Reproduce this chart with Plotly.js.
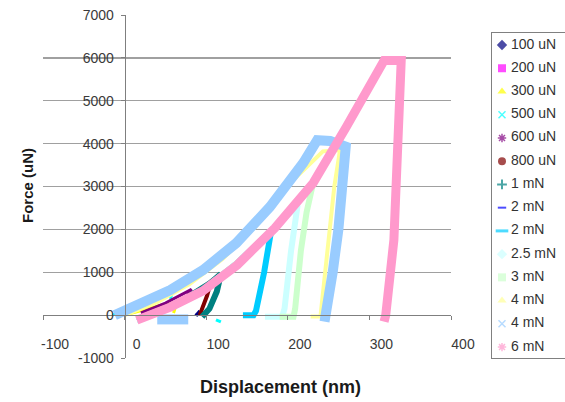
<!DOCTYPE html>
<html><head><meta charset="utf-8">
<script src="https://cdn.plot.ly/plotly-3.0.1.min.js"></script>
<style>html,body{margin:0;padding:0;background:#fff;} #chart{width:565px;height:402px;}</style>
</head><body><div id="chart"></div>
<script>
// ---- labels / ticks ----
const seriesNames = ["100 uN","200 uN","300 uN","500 uN","600 uN","800 uN","1 mN","2 mN","2 mN","2.5 mN","3 mN","4 mN","4 mN","6 mN"];
const xTicks = [-100, 0, 100, 200, 300, 400];
const yTicks = [-1000, 0, 1000, 2000, 3000, 4000, 5000, 6000, 7000];
const yGrid = [1000, 2000, 3000, 4000, 5000, 6000];

// ---- series values (displacement nm, force uN) ----
const x100uN = [88, 91, 92, 89, 87];
const y100uN = [-20, 60, 100, 30, -10];
const x200uN = [20, 40, 56, 60, 57];
const y200uN = [-60, 50, 190, 200, 120];
const x300uN = [0, 30, 50, 64, 62, 60];
const y300uN = [0, 150, 260, 300, 150, 50];
const x500uN = [-15, 10, 35, 55, 58, 56, null, 112, 118];
const y500uN = [0, 150, 380, 500, 500, 380, null, -110, -160];
const x600uN = [20, 50, 78, 82, 76, 72];
const y600uN = [50, 280, 560, 600, 420, 330];
const x800uN = [30, 70, 100, 106, 101, 95, 92];
const y800uN = [0, 350, 680, 790, 450, 100, 0];
const x1mN = [30, 70, 105, 118, 113, 104, 95];
const y1mN = [0, 330, 750, 960, 550, 150, -40];
const x2mNa = [15, 56, 96, 138, 176, 178, 171, 162, 158, 150];
const y2mNa = [-100, 190, 580, 1210, 1900, 1900, 1050, 120, -10, -20];
const x2mNb = [15, 56, 96, 138, 176, 179, 171, 161, 158, 145];
const y2mNb = [-110, 185, 585, 1215, 1900, 1900, 1000, 100, 0, 0];
const x2p5mN = [15, 56, 96, 138, 184, 210, 212, 204, 196, 193, 172];
const y2p5mN = [-110, 185, 585, 1215, 2030, 2560, 2560, 1500, 150, -40, -40];
const x3mN = [15, 56, 96, 138, 184, 229, 231, 223, 216, 209, 207, 190];
const y3mN = [-110, 185, 585, 1215, 2030, 3080, 3080, 2400, 1500, 150, -40, -40];
const x4mNa = [0, 40, 80, 120, 160, 200, 243, 264, 257, 251, 245, 240, 228];
const y4mNa = [0, 300, 730, 1310, 2060, 3030, 3820, 3850, 3000, 2000, 1000, -30, -30];
const x4mNb = [40, 78, null, -12, 15, 56, 96, 137, 178, 219, 236, 252, 271, 267, 262, 255, 248, 245];
const y4mNb = [-100, -100, null, 0, 234, 584, 1051, 1682, 2523, 3551, 4080, 4060, 3930, 3000, 2000, 1000, 100, -150];
const x6mN = [15, 56, 96, 138, 184, 231, 272, 313, 318, 339, 336, 330, 320, 318];
const y6mN = [-117, 187, 566, 1168, 2030, 3080, 4400, 5720, 5940, 5940, 4090, 1750, 0, -150];

const seriesX = [x100uN, x200uN, x300uN, x500uN, x600uN, x800uN, x1mN, x2mNa, x2mNb, x2p5mN, x3mN, x4mNa, x4mNb, x6mN];
const seriesY = [y100uN, y200uN, y300uN, y500uN, y600uN, y800uN, y1mN, y2mNa, y2mNb, y2p5mN, y3mN, y4mNa, y4mNb, y6mN];

// ---- styles ----
const colors = ["#000080","#FF00FF","#FFFF00","#00FFFF","#800080","#800000","#008080","#0000FF","#00CCFF","#CCFFFF","#CCFFCC","#FFFF99","#99CCFF","#FF99CC"];
const widths = [3, 3, 3, 3, 3, 4, 6, 3, 6, 6, 6, 4, 10, 9];
const symbols = ["diamond","square","triangle-up","x-thin-open","asterisk-open","circle","cross-thin-open","line-ew-open","line-ew-open","diamond","square","triangle-up","x-thin-open","asterisk-open"];
const symSizes = [8, 8, 8, 7, 7, 8, 7, 6, 9, 8, 8, 8, 7, 7];
const symLineW = [0, 0, 0, 1.5, 1.5, 0, 2, 2, 3, 0, 0, 0, 1.5, 1.5];

const W = 565, H = 402;
const plotL = 43, plotR = 451, plotT = 15, plotB = 358;
const legIdx = seriesNames.map((_, i) => i);
const FONT = 'Liberation Sans, Arial, sans-serif';

const traces = [];
// gridline carrier
traces.push({x: [], y: [], xaxis: 'x', yaxis: 'y3', showlegend: false, hoverinfo: 'skip', type: 'scatter'});
seriesNames.forEach((name, i) => {
  traces.push({
    type: 'scatter', mode: 'lines', name: name,
    x: seriesX[i], y: seriesY[i],
    line: {color: colors[i], width: widths[i]},
    connectgaps: false, showlegend: false, hoverinfo: 'skip', cliponaxis: false
  });
});
// manual legend
traces.push({
  type: 'scatter', mode: 'markers', xaxis: 'x2', yaxis: 'y2',
  x: legIdx.map(() => 10), y: legIdx,
  marker: {symbol: symbols, color: colors, size: symSizes, line: {color: colors, width: symLineW}},
  showlegend: false, hoverinfo: 'skip', cliponaxis: false
});
traces.push({
  type: 'scatter', mode: 'text', xaxis: 'x2', yaxis: 'y2',
  x: legIdx.map(() => 19), y: legIdx, text: seriesNames,
  textposition: 'middle right',
  textfont: {family: FONT, size: 14, color: '#333333'},
  showlegend: false, hoverinfo: 'skip', cliponaxis: false
});

const axisGray = '#7f7f7f';
const tickFont = {family: FONT, size: 14, color: '#3a3a3a'};
const layout = {
  width: W, height: H,
  margin: {l: 0, r: 0, t: 0, b: 0, pad: 0},
  paper_bgcolor: '#ffffff', plot_bgcolor: 'rgba(0,0,0,0)',
  showlegend: false, hovermode: false,
  xaxis: {
    domain: [plotL / W, plotR / W], range: [-100, 400],
    anchor: 'free', position: (H - 315) / H,
    showline: true, linecolor: axisGray, linewidth: 1,
    ticks: 'outside', ticklen: 4, tickcolor: axisGray,
    tickmode: 'array', tickvals: xTicks, ticktext: xTicks.map(String),
    ticklabelshift: 12, ticklabelstandoff: 12,
    tickfont: tickFont, showgrid: false, zeroline: false, fixedrange: true
  },
  yaxis: {
    domain: [(H - plotB) / H, (H - plotT) / H], range: [-1000, 7000],
    anchor: 'free', position: 124.6 / W,
    showline: true, linecolor: axisGray, linewidth: 1,
    ticks: 'outside', ticklen: 4, tickcolor: axisGray,
    tickmode: 'array', tickvals: yTicks, ticktext: yTicks.map(String),
    ticklabelstandoff: 4,
    tickfont: tickFont, showgrid: false, zeroline: false, fixedrange: true
  },
  yaxis3: {
    overlaying: 'y', anchor: 'x', domain: [(H - plotB) / H, (H - plotT) / H], range: [-1000, 7000],
    tickmode: 'array', tickvals: yGrid, showticklabels: false, ticks: '',
    showgrid: true, gridcolor: '#a0a0a0', gridwidth: 1.4, showline: false, zeroline: false, fixedrange: true
  },
  xaxis2: {
    domain: [492 / W, 1], range: [0, 73], anchor: 'y2',
    showline: true, mirror: true, linecolor: '#808080', linewidth: 1,
    showticklabels: false, ticks: '', showgrid: false, zeroline: false, fixedrange: true
  },
  yaxis2: {
    domain: [(H - 358) / H, (H - 33) / H], range: [13.47, -0.517], anchor: 'x2',
    showline: true, mirror: false, linecolor: '#808080', linewidth: 1,
    showticklabels: false, ticks: '', showgrid: false, zeroline: false, fixedrange: true
  },
  annotations: [
    {text: '<b>Force (uN)</b>', xref: 'paper', yref: 'paper', x: 27 / W, y: (H - 186) / H,
     textangle: -90, showarrow: false, xanchor: 'center', yanchor: 'middle',
     font: {family: FONT, size: 15, color: '#1a1a1a'}},
    {text: '<b>Displacement (nm)</b>', xref: 'paper', yref: 'paper', x: 280 / W, y: (H - 387) / H,
     showarrow: false, xanchor: 'center', yanchor: 'middle',
     font: {family: FONT, size: 18, color: '#1a1a1a'}}
  ]
};

Plotly.newPlot('chart', traces, layout, {staticPlot: true, displayModeBar: false});
</script>
</body></html>
